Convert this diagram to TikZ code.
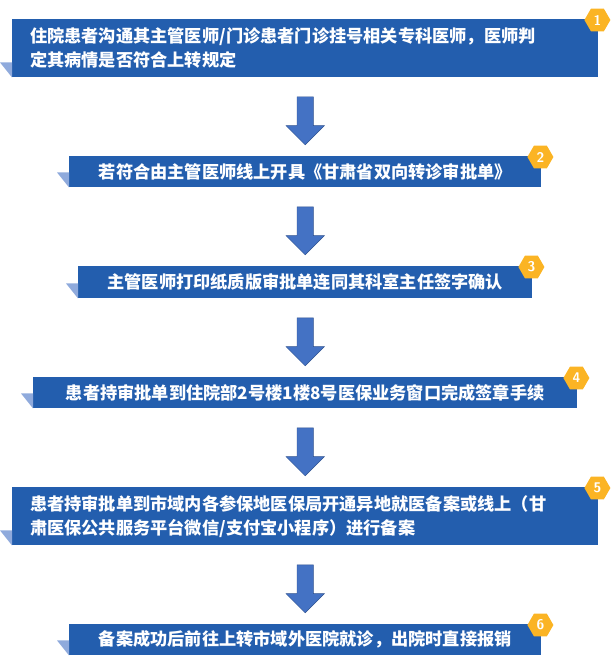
\documentclass[tikz,border=0pt]{standalone}
\usepackage{fontspec}
\newfontfamily\cjk{Noto Sans CJK SC}
\usetikzlibrary{shapes.arrows,shapes.geometric,calc}
\definecolor{boxblue}{RGB}{35,94,174}
\definecolor{tabblue}{RGB}{143,170,220}
\definecolor{arrowblue}{RGB}{68,114,196}
\definecolor{arrowedge}{RGB}{47,82,143}
\definecolor{badge}{RGB}{251,180,36}
\tikzset{
  stepbox/.style={fill=boxblue,text=white,font=\cjk\bfseries\fontsize{17.2}{24}\selectfont,
    inner sep=0pt,anchor=north west},
  downarrow/.style={single arrow,draw=arrowedge,fill=arrowblue,inner sep=8pt,
    minimum height=48pt,single arrow head extend=11pt,shape border rotate=270},
  numbadge/.style={regular polygon,regular polygon sides=6,fill=badge,text=white,
    minimum size=26pt,inner sep=0pt,font=\sffamily\bfseries\fontsize{14}{14}\selectfont},
}
\newcommand\boxtab[1]{\fill[tabblue] ($(#1.south west)+(-12,-15)$) -- ($(#1.south west)+(0,-15)$) -- (#1.south west) -- cycle;}
\begin{document}
\begin{tikzpicture}[x=1pt,y=-1pt]
  \useasboundingbox (0,0) rectangle (612,658);

  %% boxes
  \node[stepbox,minimum width=586pt,minimum height=58pt,align=left,text width=566pt]
    (b1) at (12,19) {\hspace*{8pt}住院患者沟通其主管医师/门诊患者门诊挂号相关专科医师，医师判\\\hspace*{8pt}定其病情是否符合上转规定};
  \node[stepbox,minimum width=472pt,minimum height=31pt] (b2) at (69,156)
    {若符合由主管医师线上开具《甘肃省双向转诊审批单》};
  \node[stepbox,minimum width=454pt,minimum height=32pt] (b3) at (78,266)
    {主管医师打印纸质版审批单连同其科室主任签字确认};
  \node[stepbox,minimum width=544pt,minimum height=31pt] (b4) at (33,377)
    {患者持审批单到住院部2号楼1楼8号医保业务窗口完成签章手续};
  \node[stepbox,minimum width=586pt,minimum height=58pt,align=left,text width=566pt]
    (b5) at (12,487) {\hspace*{8pt}患者持审批单到市域内各参保地医保局开通异地就医备案或线上（甘\\\hspace*{8pt}肃医保公共服务平台微信/支付宝小程序）进行备案};
  \node[stepbox,minimum width=472pt,minimum height=31pt] (b6) at (69,624)
    {备案成功后前往上转市域外医院就诊，出院时直接报销};

  %% tabs and badges
  \foreach \b/\n in {b1/1,b2/2,b3/3,b4/4,b5/5,b6/6}{
    \boxtab{\b}
    \node[numbadge] (n\n) at ($(\b.north east)+(-1,1)$) {\n};
  }

  %% arrows
  \foreach \a/\b [count=\i] in {b1/b2,b2/b3,b3/b4,b4/b5,b5/b6}
    \node[downarrow] (a\i) at ($(\a.south)!0.5!(\b.north)$) {};
\end{tikzpicture}
\end{document}
